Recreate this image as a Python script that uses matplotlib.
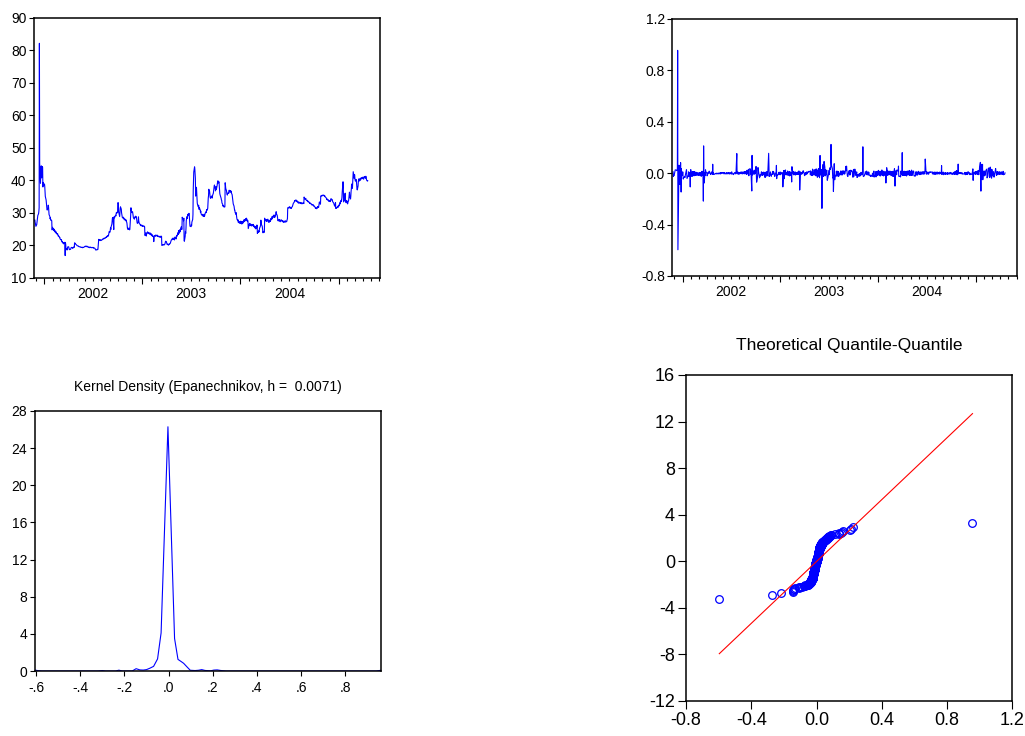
import numpy as np
import pandas as pd
import matplotlib
matplotlib.use("Agg")
import matplotlib.pyplot as plt
import matplotlib.dates as mdates
from statistics import NormalDist

plt.rcParams['font.family'] = ['Liberation Sans', 'DejaVu Sans']
plt.rcParams['axes.unicode_minus'] = False

# daily closing prices, first trading day 2001-11-23
price_2001 = [27.6, 27.9, 27.2, 26.8, 26.3, 25.9, 26.4, 27.1, 27.8, 28.5,
              29.2, 29.8, 30.5, 31.6, 82.2, 45.3, 39.1, 41.6, 43.8, 44.5,
              40.8, 44.3, 44.0, 38.0, 39.4, 39.1, 38.5]
price_2002 = [38.9, 38.1, 36.4, 35.1, 34.0, 33.1, 32.0, 31.3, 30.9, 31.5,
              32.4, 31.9, 30.6, 29.5, 28.9, 28.2, 28.5, 27.8, 27.9, 27.6,
              24.8, 24.9, 25.6, 25.0, 25.2, 24.6, 24.9, 24.4, 24.2, 24.5,
              24.0, 23.8, 24.1, 23.7, 23.4, 23.6, 23.2, 22.9, 23.0, 22.7,
              22.4, 22.5, 22.1, 21.9, 21.7, 21.8, 21.4, 21.1, 21.2, 20.7,
              20.9, 20.5, 20.8, 20.7, 21.0, 16.9, 20.9, 20.3, 18.8, 18.9,
              18.6, 19.1, 19.4, 19.6, 19.6, 19.2, 18.9, 18.7, 18.8, 18.8,
              19.0, 19.3, 19.4, 19.4, 19.3, 19.1, 19.2, 19.4, 19.5, 19.4,
              20.8, 20.6, 20.7, 20.5, 20.3, 20.2, 20.1, 20.0, 19.9, 19.9,
              19.8, 19.7, 19.7, 19.6, 19.6, 19.6, 19.5, 19.5, 19.4, 19.4,
              19.5, 19.4, 19.3, 19.4, 19.4, 19.5, 19.6, 19.6, 19.7, 19.8,
              19.7, 19.6, 19.7, 19.8, 19.7, 19.6, 19.5, 19.4, 19.5, 19.5,
              19.4, 19.3, 19.4, 19.5, 19.4, 19.4, 19.3, 19.4, 19.4, 19.3,
              19.2, 19.4, 19.3, 19.2, 19.1, 18.9, 18.7, 18.6, 18.6, 18.7,
              18.8, 18.7, 18.8, 18.8, 21.9, 21.8, 21.7, 21.6, 21.8, 21.7,
              21.5, 21.6, 21.7, 21.7, 21.8, 22.0, 21.9, 22.0, 22.2, 22.1,
              22.3, 22.2, 22.2, 22.4, 22.6, 22.5, 22.8, 22.7, 22.9, 23.1,
              22.9, 23.4, 23.9, 24.3, 24.1, 24.8, 25.4, 24.9, 25.7, 26.6,
              27.5, 28.4, 28.2, 28.6, 24.9, 28.6, 28.9, 28.5, 28.9, 29.3,
              29.1, 29.8, 30.2, 30.0, 30.1, 31.5, 33.2, 32.6, 30.4, 29.3,
              28.9, 30.2, 31.4, 31.9, 31.2, 30.1, 29.6, 28.9, 28.6, 28.4,
              28.7, 28.3, 28.4, 27.9, 28.1, 27.8, 28.0, 27.6, 27.8, 26.9,
              26.1, 25.3, 25.5, 24.9, 25.2, 25.1, 25.3, 24.8, 25.1, 29.3,
              31.6, 30.8, 30.5, 30.1, 30.4, 29.9, 29.3, 28.6, 28.4, 28.1,
              28.5, 28.8, 28.6, 29.0, 28.9, 28.2, 27.6, 27.0, 26.8, 27.1,
              28.8, 27.6, 27.2, 26.8, 26.5, 26.3, 26.4, 26.1, 26.3, 26.0,
              26.2]
price_2003 = [25.9, 26.1, 26.0, 26.0, 25.8, 25.9, 25.7, 23.1, 23.4, 23.9,
              22.9, 23.4, 23.6, 24.2, 23.9, 24.0, 23.7, 23.8, 23.5, 23.9,
              23.9, 23.5, 23.3, 23.6, 23.1, 23.4, 23.0, 22.8, 22.9, 22.7,
              21.2, 22.3, 22.9, 23.1, 22.9, 23.2, 22.9, 23.0, 23.2, 22.9,
              23.1, 22.8, 22.9, 22.7, 22.8, 22.6, 22.8, 22.7, 22.5, 22.9,
              22.7, 22.8, 20.0, 20.2, 20.3, 20.1, 20.2, 20.3, 20.2, 20.4,
              20.6, 21.0, 21.3, 21.2, 20.8, 20.6, 20.3, 20.4, 20.2, 20.1,
              20.3, 20.5, 20.4, 20.6, 20.8, 21.1, 21.3, 21.6, 21.9, 22.1,
              21.8, 22.2, 22.3, 21.9, 22.1, 21.7, 22.4, 22.6, 22.3, 22.0,
              22.6, 23.1, 22.8, 23.5, 23.9, 23.4, 24.2, 24.6, 23.8, 24.4,
              24.9, 24.3, 25.2, 25.8, 24.9, 25.0, 28.7, 28.4, 28.2, 27.6,
              28.4, 21.6, 21.3, 22.8, 24.3, 23.7, 25.2, 27.6, 28.9, 28.3,
              29.1, 29.6, 29.2, 29.9, 29.8, 28.2, 26.9, 25.9, 25.8, 25.8,
              26.4, 26.1, 27.2, 28.0, 29.5, 36.9, 40.2, 42.6, 44.2, 43.5,
              41.9, 40.6, 35.2, 37.9, 36.2, 34.4, 33.1, 32.6, 31.9, 32.4,
              31.8, 31.1, 31.6, 30.9, 30.2, 30.6, 29.9, 29.6, 29.3, 29.4,
              29.1, 29.6, 29.2, 28.9, 29.4, 29.0, 29.3, 29.8, 30.3, 30.1,
              30.6, 31.0, 30.8, 31.4, 33.1, 34.6, 35.3, 37.3, 36.6, 35.8,
              34.9, 34.6, 34.5, 35.2, 34.8, 35.1, 34.6, 35.4, 36.1, 36.9,
              37.5, 38.2, 38.6, 37.4, 36.8, 37.9, 38.1, 37.2, 38.4, 39.1,
              39.5, 39.9, 39.2, 39.6, 38.3, 37.1, 36.0, 35.6, 34.8, 34.5,
              34.0, 33.9, 33.1, 32.6, 32.1, 32.3, 31.9, 32.1, 31.8, 32.0,
              39.3, 38.6, 37.6, 36.8, 36.1, 35.8, 35.5, 35.9, 36.3, 36.0,
              36.6, 37.0, 36.5, 36.6, 36.9, 36.4, 36.7, 36.2, 35.6, 34.9,
              34.1, 33.6, 32.8, 32.1, 31.6, 30.9, 30.9, 30.2, 29.6, 30.1,
              29.2, 28.6, 28.1, 27.6, 27.9, 27.1, 27.4, 27.0, 27.3, 26.8,
              27.2]
price_2004 = [26.9, 27.5, 27.1, 26.6, 27.0, 27.4, 26.8, 27.2, 27.6, 27.3,
              28.0, 27.5, 27.8, 28.2, 27.6, 28.0, 28.4, 27.9, 27.4, 27.7,
              27.2, 25.2, 26.3, 26.6, 26.2, 26.8, 26.4, 26.1, 26.5, 26.3,
              26.0, 26.4, 26.1, 26.5, 26.3, 25.8, 26.1, 25.6, 25.9, 25.3,
              25.7, 25.1, 25.4, 26.3, 26.2, 23.7, 24.1, 24.0, 24.5, 24.2,
              24.8, 25.3, 25.9, 26.3, 27.8, 27.2, 26.5, 25.9, 25.3, 24.6,
              23.9, 24.3, 24.0, 24.2, 28.4, 28.1, 27.6, 28.0, 27.5, 27.9,
              27.4, 27.8, 28.1, 27.6, 27.3, 27.7, 27.1, 27.5, 27.8, 27.4,
              27.9, 28.3, 27.9, 28.5, 28.9, 28.4, 28.8, 29.2, 28.7, 29.4,
              29.1, 28.6, 29.0, 29.5, 30.0, 30.4, 29.8, 29.2, 28.5, 28.0,
              27.6, 27.9, 27.5, 27.8, 28.0, 27.6, 27.3, 27.7, 27.9, 27.8,
              27.5, 27.7, 27.4, 27.2, 27.5, 27.3, 27.1, 27.3, 27.6, 27.4,
              27.2, 27.5, 27.3, 27.6, 27.9, 28.3, 31.6, 31.7, 31.5, 31.8,
              31.6, 31.9, 31.7, 31.5, 31.6, 31.4, 31.7, 31.9, 32.2, 32.5,
              32.7, 33.0, 33.3, 33.6, 33.8, 33.6, 33.9, 34.0, 33.7, 33.5,
              33.8, 33.6, 33.3, 33.1, 33.4, 33.2, 33.0, 33.3, 33.1, 32.9,
              33.0, 33.2, 33.0, 32.8, 33.1, 33.0, 32.9, 33.1, 32.9, 34.9,
              34.6, 34.4, 34.2, 34.5, 34.1, 34.0, 33.8, 33.9, 33.6, 33.7,
              33.4, 33.5, 33.3, 33.1, 33.2, 32.9, 33.0, 32.8, 32.6, 32.7,
              32.5, 32.4, 32.6, 32.5, 32.3, 32.1, 32.2, 31.9, 31.7, 31.5,
              31.4, 31.6, 31.3, 31.5, 31.8, 31.6, 32.0, 31.7, 32.3, 32.8,
              33.4, 33.0, 32.7, 35.1, 35.3, 35.2, 35.4, 35.3, 35.5, 35.4,
              35.3, 35.5, 35.4, 35.2, 35.3, 35.1, 34.9, 34.7, 34.5, 34.3,
              34.1, 34.3, 33.9, 34.0, 33.7, 33.9, 33.6, 33.8, 33.5, 33.7,
              34.1, 34.4, 34.2, 33.9, 34.0, 33.6, 33.4, 33.1, 32.8, 32.5,
              32.3, 32.1, 33.2, 31.4, 31.6, 31.7, 31.5, 31.8, 32.0, 31.7,
              32.1, 32.4]
price_2005 = [32.2, 32.6, 33.1, 32.8, 33.4, 33.9, 33.5, 34.2, 34.8, 36.4,
              39.6, 38.4, 33.4, 35.8, 34.1, 33.7, 36.1, 34.3, 33.6, 33.2,
              33.8, 33.1, 33.4, 32.8, 33.2, 33.9, 34.8, 35.9, 36.4, 35.1,
              34.3, 35.2, 36.6, 37.4, 38.9, 37.6, 39.2, 41.1, 42.7, 42.2,
              40.6, 41.8, 40.9, 40.2, 39.8, 40.3, 39.6, 38.4, 37.5, 37.1,
              38.3, 39.7, 40.2, 40.5, 39.8, 40.3, 40.6, 40.1, 40.4, 40.8,
              40.5, 40.9, 40.6, 41.0, 40.7, 40.4, 40.8, 41.2, 40.9, 41.1,
              40.7, 41.3, 40.8, 40.5, 40.1, 39.8, 39.9]

year_labels = ["2002", "2003", "2004"]

# kernel density curve (Epanechnikov, h = 0.0071)
density_x = [-0.606, -0.59, -0.575, -0.32, -0.30, -0.285, -0.24, -0.225, -0.21, -0.165,
             -0.147, -0.13, -0.115, -0.10, -0.085, -0.068, -0.05, -0.034, -0.003, 0.027,
             0.0425, 0.058, 0.068, 0.083, 0.098, 0.12, 0.135, 0.15, 0.165, 0.19,
             0.205, 0.22, 0.235, 0.26, 0.94, 0.962]
density_y = [0.1, 0.04, 0.0, 0.0, 0.05, 0.0, 0.0, 0.09, 0.0, 0.0,
             0.25, 0.12, 0.1, 0.15, 0.3, 0.5, 1.3, 4.1, 26.3, 3.5,
             1.25, 1.0, 0.83, 0.45, 0.08, 0.05, 0.08, 0.15, 0.06, 0.02,
             0.1, 0.12, 0.06, 0.0, 0.0, 0.08]

# reference line of the quantile plot
qq_line_x = [-0.596, 0.956]
qq_line_y = [-7.96, 12.68]

prices = np.array(price_2001 + price_2002 + price_2003 + price_2004 + price_2005)
dates = pd.bdate_range("2001-11-23", periods=len(prices))
returns = np.diff(np.log(prices))

n = len(returns)
qq_x = np.sort(returns)
qq_y = [NormalDist().inv_cdf((i + 0.5) / n) for i in range(n)]

fig = plt.figure(figsize=(10.25, 7.36), dpi=100)
ax1 = fig.add_axes([0.0332, 0.6223, 0.3376, 0.3533])
ax2 = fig.add_axes([0.6559, 0.6250, 0.3366, 0.3492])
ax3 = fig.add_axes([0.0339, 0.0883, 0.3379, 0.3533])
ax4 = fig.add_axes([0.6693, 0.0480, 0.3183, 0.4425])

for ax in (ax1, ax2, ax3, ax4):
    for s in ax.spines.values():
        s.set_linewidth(1.1)
    ax.tick_params(direction='out', top=False, right=False, width=0.8,
                   labelsize=10, length=3.6, pad=1.8)


def date_axis(ax):
    ax.set_xlim(mdates.date2num(dates[0]), mdates.date2num(pd.Timestamp("2005-06-04")))
    ax.xaxis.set_major_locator(mdates.YearLocator())
    ax.xaxis.set_minor_locator(mdates.MonthLocator())
    ax.xaxis.set_major_formatter(plt.NullFormatter())
    ax.tick_params(axis='x', which='major', length=4.5)
    ax.tick_params(axis='x', which='minor', length=2.4, width=0.8)
    for lab in year_labels:
        xm = mdates.date2num(pd.Timestamp(lab + "-07-01"))
        ax.annotate(lab, xy=(xm, 0), xycoords=('data', 'axes fraction'),
                    xytext=(0, -11.5), textcoords='offset points',
                    ha='center', va='center', fontsize=10)


# price level
ax1.plot(dates, prices, color='blue', lw=0.8)
date_axis(ax1)
ax1.set_ylim(10, 90)
ax1.set_yticks(range(10, 91, 10))

# daily log returns
ax2.plot(dates[1:], returns, color='blue', lw=0.8)
date_axis(ax2)
ax2.set_ylim(-0.8, 1.2)
ax2.set_yticks([-0.8, -0.4, 0.0, 0.4, 0.8, 1.2])
ax2.set_yticklabels(["-0.8", "-0.4", "0.0", "0.4", "0.8", "1.2"])

# kernel density
ax3.plot(density_x, density_y, color='blue', lw=0.8)
ax3.set_xlim(-0.606, 0.962)
ax3.set_ylim(0, 28)
ax3.set_xticks([-0.6, -0.4, -0.2, 0.0, 0.2, 0.4, 0.6, 0.8])
ax3.set_xticklabels(["-.6", "-.4", "-.2", ".0", ".2", ".4", ".6", ".8"])
ax3.set_yticks(range(0, 29, 4))
ax3.tick_params(axis='x', pad=3.5)
ax3.text(0.5, 1.094, "Kernel Density (Epanechnikov, h =  0.0071)", transform=ax3.transAxes,
         ha='center', va='center', fontsize=10)

# quantile-quantile
ax4.plot(qq_x, qq_y, 'o', mfc='none', mec='blue', ms=5.5, mew=0.9)
ax4.plot(qq_line_x, qq_line_y, color='red', lw=0.8)
ax4.set_xlim(-0.8, 1.2)
ax4.set_ylim(-12, 16)
ax4.set_xticks([-0.8, -0.4, 0.0, 0.4, 0.8, 1.2])
ax4.set_xticklabels(["-0.8", "-0.4", "0.0", "0.4", "0.8", "1.2"])
ax4.set_yticks(range(-12, 17, 4))
ax4.tick_params(labelsize=13, length=5.5, pad=2.5)
ax4.text(0.5, 1.092, "Theoretical Quantile-Quantile", transform=ax4.transAxes,
         ha='center', va='center', fontsize=12.5)

fig.savefig("out.png", dpi=100)
